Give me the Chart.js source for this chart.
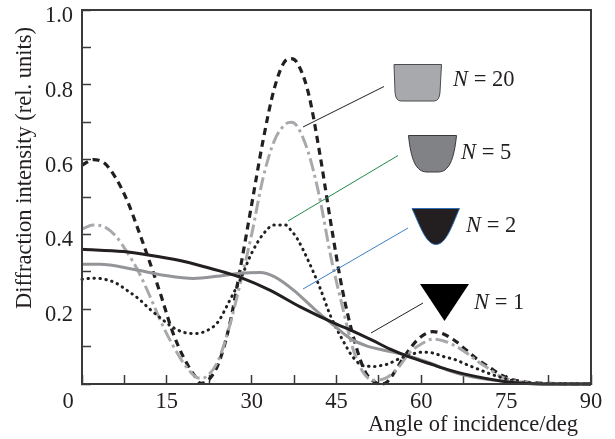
<!DOCTYPE html>
<html>
<head>
<meta charset="utf-8">
<style>
  html, body { margin: 0; padding: 0; background: #fff; }
  canvas { display: block; }
</style>
<script src="https://cdn.jsdelivr.net/npm/chart.js@4"></script>
</head>
<body>
<canvas id="chart" width="615" height="439"></canvas>
<script>
// Values
const anglesDashed = [0, 2, 4, 6, 8, 10, 12, 14, 16, 18, 20, 21, 22, 24, 26, 28, 30, 32, 34, 36, 37, 38, 40, 42, 44, 46, 48, 50, 52, 53, 54, 56, 58, 60, 62, 64, 66, 68, 70, 72, 74, 76, 78, 80, 84, 90];
const n20Values = [0.585, 0.6, 0.59, 0.55, 0.49, 0.41, 0.325, 0.235, 0.14, 0.07, 0.02, 0.002, 0.006, 0.05, 0.152, 0.31, 0.48, 0.65, 0.79, 0.865, 0.87, 0.86, 0.78, 0.62, 0.43, 0.255, 0.125, 0.035, 0.003, 0, 0.006, 0.05, 0.095, 0.127, 0.14, 0.133, 0.115, 0.09, 0.065, 0.045, 0.025, 0.012, 0.006, 0.003, 0.001, 0];
const n5Values = [0.415, 0.425, 0.42, 0.395, 0.352, 0.3, 0.235, 0.165, 0.105, 0.055, 0.02, 0.015, 0.02, 0.06, 0.15, 0.27, 0.4, 0.55, 0.65, 0.695, 0.7, 0.69, 0.62, 0.5, 0.34, 0.21, 0.09, 0.025, 0.01, 0.012, 0.018, 0.045, 0.085, 0.107, 0.12, 0.115, 0.102, 0.083, 0.06, 0.04, 0.02, 0.01, 0.005, 0.002, 0.001, 0];
const n2Values = [0.28, 0.283, 0.28, 0.27, 0.25, 0.228, 0.2, 0.175, 0.152, 0.138, 0.135, 0.137, 0.142, 0.165, 0.22, 0.28, 0.35, 0.4, 0.425, 0.425, 0.41, 0.39, 0.33, 0.26, 0.18, 0.12, 0.07, 0.048, 0.047, 0.05, 0.053, 0.067, 0.078, 0.085, 0.083, 0.073, 0.065, 0.052, 0.04, 0.028, 0.018, 0.01, 0.005, 0.002, 0.001, 0];

const anglesBlack = [0, 7.3, 11.7, 17.3, 22, 26.2, 28, 33.2, 38.5, 45, 47.7, 51.2, 54.5, 57.4, 62.1, 65, 67.5, 75, 80, 90];
const n1Values = [0.36, 0.354, 0.345, 0.33, 0.312, 0.294, 0.285, 0.251, 0.207, 0.16, 0.143, 0.118, 0.093, 0.075, 0.051, 0.037, 0.027, 0.006, 0.001, 0];

const anglesGray = [0, 3.2, 9, 14.4, 19.7, 24.4, 28, 31.5, 34, 37.4, 40.9, 44.4, 47.4, 50.3, 53.2, 56.8, 62.1, 65, 67.5, 74, 80, 90];
const grayValues = [0.32, 0.32, 0.307, 0.291, 0.282, 0.289, 0.296, 0.298, 0.287, 0.251, 0.203, 0.158, 0.122, 0.102, 0.091, 0.079, 0.053, 0.035, 0.024, 0.008, 0.001, 0];

const xMajorLabels = [15, 30, 45, 60, 75, 90];
const yMajorLabels = [0.2, 0.4, 0.6, 0.8, 1.0];

const serif = '"Liberation Serif", serif';
const ink = '#231f20';
const fontSize = 22.5;

function toPoints(xs, ys) {
    return xs.map(function(x, i) { return { x: x, y: ys[i] }; });
}

function lineSet(label, xs, ys, color, width, dash, cap) {
    return {
        label: label,
        data: toPoints(xs, ys),
        borderColor: color,
        borderWidth: width,
        borderDash: dash,
        borderCapStyle: cap || 'butt',
        pointRadius: 0,
        cubicInterpolationMode: 'monotone',
        clip: false
    };
}

function textAt(ctx, parts, x, y) {
    parts.forEach(function(p) {
        ctx.font = p[1] + ' ' + fontSize + 'px ' + serif;
        ctx.fillText(p[0], x, y);
        x += ctx.measureText(p[0]).width;
    });
}

// Box, leader lines, profile icons and free text
const decorations = {
    id: 'decorations',
    afterDraw: function(chart) {
        const ctx = chart.ctx;
        const a = chart.chartArea;
        ctx.save();
        ctx.strokeStyle = '#3a3a3a';
        ctx.lineWidth = 2;
        ctx.strokeRect(a.left, a.top, a.right - a.left, a.bottom - a.top);

        // leader lines
        [['#231f20', 303, 127, 384, 86.5], ['#1f8a4c', 288, 221, 398, 155.5], ['#3b7fc4', 303, 289, 408, 228], ['#231f20', 371, 333, 423, 303]].forEach(function(l) {
            ctx.strokeStyle = l[0];
            ctx.lineWidth = 1;
            ctx.beginPath();
            ctx.moveTo(l[1], l[2]);
            ctx.lineTo(l[3], l[4]);
            ctx.stroke();
        });

        // N = 20 profile
        ctx.lineWidth = 1;
        ctx.strokeStyle = '#4d4d4f';
        ctx.fillStyle = '#a7a9ac';
        ctx.beginPath();
        ctx.moveTo(394, 64.5);
        ctx.lineTo(441.5, 64.5);
        ctx.lineTo(440, 92);
        ctx.quadraticCurveTo(439.5, 101, 434, 101);
        ctx.lineTo(401, 101);
        ctx.quadraticCurveTo(395.5, 101, 395, 92);
        ctx.closePath();
        ctx.fill();
        ctx.stroke();

        // N = 5 profile
        ctx.fillStyle = '#808285';
        ctx.strokeStyle = '#3a3a3a';
        ctx.beginPath();
        ctx.moveTo(408.5, 135.5);
        ctx.lineTo(456.5, 135.5);
        ctx.bezierCurveTo(454, 160, 449, 172, 438, 172);
        ctx.lineTo(427, 172);
        ctx.bezierCurveTo(416, 172, 411, 160, 408.5, 135.5);
        ctx.closePath();
        ctx.fill();
        ctx.stroke();

        // N = 2 profile
        ctx.fillStyle = '#231f20';
        ctx.strokeStyle = '#2f6fb5';
        ctx.beginPath();
        ctx.moveTo(412, 208.5);
        ctx.lineTo(459.5, 208.5);
        ctx.bezierCurveTo(452, 226, 446, 244.5, 436, 244.5);
        ctx.bezierCurveTo(426, 244.5, 420, 226, 412, 208.5);
        ctx.closePath();
        ctx.fill();
        ctx.stroke();

        // N = 1 profile
        ctx.fillStyle = '#000';
        ctx.beginPath();
        ctx.moveTo(420, 284);
        ctx.lineTo(469, 284);
        ctx.lineTo(444.5, 321);
        ctx.closePath();
        ctx.fill();

        // text
        ctx.fillStyle = ink;
        ctx.textAlign = 'left';
        ctx.textBaseline = 'alphabetic';
        textAt(ctx, [['N', 'italic'], [' = 20', 'normal']], 453, 86);
        textAt(ctx, [['N', 'italic'], [' = 5', 'normal']], 461, 159);
        textAt(ctx, [['N', 'italic'], [' = 2', 'normal']], 466, 232);
        textAt(ctx, [['N', 'italic'], [' = 1', 'normal']], 474, 309);

        ctx.font = fontSize + 'px ' + serif;
        ctx.textAlign = 'center';
        ctx.fillText('0', 68, 408);
        ctx.textAlign = 'right';
        ctx.fillText('Angle of incidence/deg', 578, 431);

        ctx.translate(31, 168);
        ctx.rotate(-Math.PI / 2);
        ctx.textAlign = 'center';
        ctx.fillText('Diffraction intensity (rel. units)', 0, 0);
        ctx.restore();
    }
};

new Chart(document.getElementById('chart'), {
    type: 'line',
    data: {
        datasets: [
            lineSet('N = 1', anglesBlack, n1Values, '#231f20', 3, []),
            lineSet('Solid gray', anglesGray, grayValues, '#939598', 3, []),
            lineSet('N = 2', anglesDashed, n2Values, '#231f20', 3, [0.5, 5.5], 'round'),
            lineSet('N = 5', anglesDashed, n5Values, '#a7a9ac', 3, [13, 4, 3, 4]),
            lineSet('N = 20', anglesDashed, n20Values, '#231f20', 3.2, [7, 5])
        ]
    },
    plugins: [decorations],
    options: {
        responsive: false,
        animation: false,
        layout: { padding: { top: 10, right: 24, left: 0, bottom: 0 } },
        plugins: { legend: { display: false }, tooltip: { enabled: false } },
        scales: {
            x: {
                type: 'linear',
                min: 0,
                max: 90,
                afterFit: function(scale) {
                    scale.height = 55;
                    scale.paddingLeft = 0;
                    scale.paddingRight = 0;
                },
                border: { color: '#3a3a3a', width: 2 },
                grid: { drawOnChartArea: false, tickLength: -9, tickColor: '#3a3a3a', tickWidth: 1.5 },
                ticks: {
                    stepSize: 7.5,
                    autoSkip: false,
                    maxRotation: 0,
                    padding: 14,
                    color: ink,
                    font: { family: serif, size: fontSize },
                    callback: function(v) { return xMajorLabels.includes(v) ? String(v) : ''; }
                }
            },
            y: {
                min: 0,
                max: 1,
                afterFit: function(scale) {
                    scale.width = 82;
                    scale.paddingTop = 0;
                    scale.paddingBottom = 0;
                },
                border: { color: '#3a3a3a', width: 2 },
                grid: { drawOnChartArea: false, tickLength: -9, tickColor: '#3a3a3a', tickWidth: 1.5 },
                ticks: {
                    stepSize: 0.1,
                    autoSkip: false,
                    padding: 18,
                    labelOffset: 6,
                    color: ink,
                    font: { family: serif, size: fontSize },
                    callback: function(v) {
                        const rounded = Math.round(v * 10) / 10;
                        return yMajorLabels.includes(rounded) ? rounded.toFixed(1) : '';
                    }
                }
            }
        }
    }
});
</script>
</body>
</html>
